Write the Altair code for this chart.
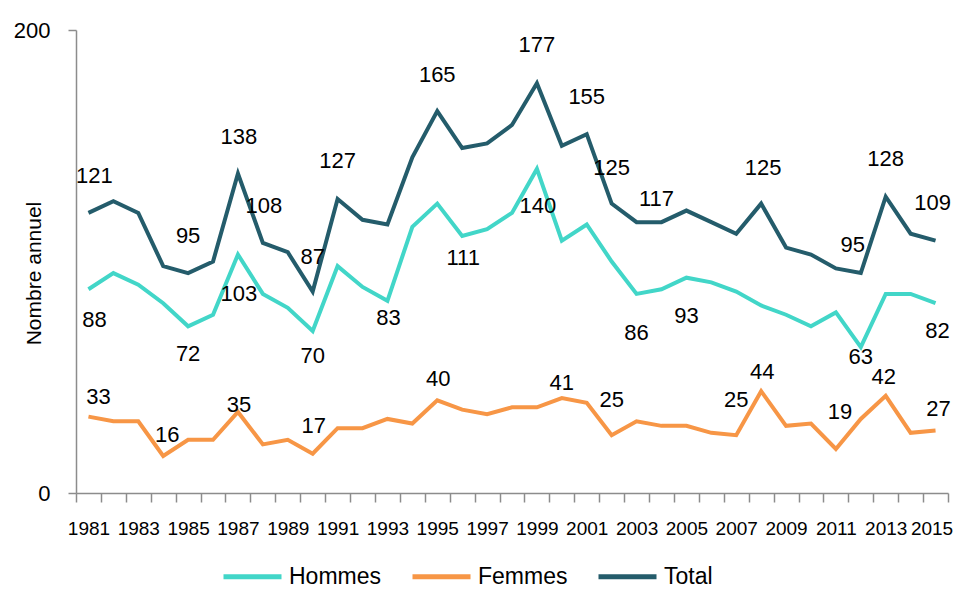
import altair as alt
import pandas as pd

years = list(range(1981, 2016))
hommes = [88, 95, 90, 82, 72, 77, 103, 86, 80, 70, 98, 89, 83, 115, 125, 111, 114, 121, 140, 109,
          116, 100, 86, 88, 93, 91, 87, 81, 77, 72, 78, 63, 86, 86, 82]
femmes = [33, 31, 31, 16, 23, 23, 35, 21, 23, 17, 28, 28, 32, 30, 40, 36, 34, 37, 37, 41,
          39, 25, 31, 29, 29, 26, 25, 44, 29, 30, 19, 32, 42, 26, 27]
total = [121, 126, 121, 98, 95, 100, 138, 108, 104, 87, 127, 118, 116, 145, 165, 149, 151, 159, 177, 150,
         155, 125, 117, 117, 122, 117, 112, 125, 106, 103, 97, 95, 128, 112, 109]

series_names = ["Hommes", "Femmes", "Total"]
series_colors = ["#42D6C8", "#F79646", "#245C6B"]

# labelled points: (series, year, dx px, dy px)
label_specs = [
    ("Total", 1981, 6, -37), ("Total", 1985, 0, -37), ("Total", 1987, 1, -37), ("Total", 1988, 1, -37),
    ("Total", 1990, 0, -35), ("Total", 1991, 0, -38), ("Total", 1995, 0, -36), ("Total", 1999, 0, -38),
    ("Total", 2001, 0, -37), ("Total", 2002, 0, -36), ("Total", 2004, -5, -23), ("Total", 2008, 2, -36),
    ("Total", 2012, -8, -28), ("Total", 2013, 0, -38), ("Total", 2015, -3, -38),
    ("Hommes", 1981, 6, 31), ("Hommes", 1985, 0, 28), ("Hommes", 1987, 1, 39), ("Hommes", 1990, 0, 25),
    ("Hommes", 1993, 1, 17), ("Hommes", 1996, 1, 22), ("Hommes", 1999, 1, 37), ("Hommes", 2003, 0, 39),
    ("Hommes", 2005, 0, 38), ("Hommes", 2012, 0, 10), ("Hommes", 2015, 2, 28),
    ("Femmes", 1981, 10, -20), ("Femmes", 1984, 4, -21), ("Femmes", 1987, 1, -7), ("Femmes", 1990, 1, -28),
    ("Femmes", 1995, 1, -21), ("Femmes", 2000, 0, -15), ("Femmes", 2002, 0, -35), ("Femmes", 2007, 0, -35),
    ("Femmes", 2008, 1, -19), ("Femmes", 2011, 4, -37), ("Femmes", 2013, -2, -19), ("Femmes", 2015, 3, -21),
]

W, H = 872, 463
X0, X1 = 1980.5, 2015.5
YMAX = 200
px_per_year = W / (X1 - X0)
px_per_unit = H / YMAX

FONT = "Liberation Sans"
GRAY = "#8C8C8C"

rows = []
for name, vals in zip(series_names, [hommes, femmes, total]):
    for y, v in zip(years, vals):
        rows.append({"year": y, "value": v, "serie": name})
df = pd.DataFrame(rows)

lookup = {"Hommes": dict(zip(years, hommes)), "Femmes": dict(zip(years, femmes)), "Total": dict(zip(years, total))}
lab_rows = []
for name, y, dx, dy in label_specs:
    v = lookup[name][y]
    lab_rows.append({"year": y, "value": v, "serie": name, "txt": str(v),
                     "xl": y + dx / px_per_year, "yl": v - dy / px_per_unit})
ldf = pd.DataFrame(lab_rows)

xscale = alt.Scale(domain=[X0, X1], nice=False, zero=False)
yscale = alt.Scale(domain=[0, YMAX], nice=False)

yaxis = alt.Axis(values=[0, 200], tickSize=8, tickColor=GRAY, domainColor=GRAY,
                 tickWidth=1.5, domainWidth=1.5, grid=False,
                 labelFont=FONT, labelFontSize=22, labelColor="#000", labelPadding=18,
                 title="Nombre annuel", titleFont=FONT, titleFontSize=21,
                 titleFontWeight="normal", titleColor="#000",
                 titleX=-42, titleY=243, titleAngle=270, titleAlign="center",
                 titleBaseline="middle")

color = alt.Color("serie:N", scale=alt.Scale(domain=series_names, range=series_colors),
                  legend=alt.Legend(title=None, orient="none", direction="horizontal",
                                    legendX=145, legendY=515,
                                    symbolType="stroke", symbolSize=3364, symbolStrokeWidth=5,
                                    labelFont=FONT, labelFontSize=23, labelColor="#000",
                                    labelOffset=5, columnPadding=20, labelLimit=300))

lines = alt.Chart(df).mark_line(strokeWidth=4, strokeJoin="miter").encode(
    x=alt.X("year:Q", scale=xscale,
            axis=alt.Axis(values=[X0 + i for i in range(36)], labels=False, ticks=True, tickSize=9,
                          tickColor=GRAY, domainColor=GRAY, tickWidth=1.5, domainWidth=1.5,
                          grid=False, title=None, orient="bottom")),
    y=alt.Y("value:Q", scale=yscale, axis=yaxis),
    color=color,
)

xlabels = alt.Chart(pd.DataFrame({"year": years})).mark_point(opacity=0).encode(
    x=alt.X("year:Q", scale=xscale,
            axis=alt.Axis(values=[y for y in years if y % 2 == 1], format="d", ticks=False, domain=False,
                          labelFont=FONT, labelFontSize=19, labelColor="#000", labelPadding=26,
                          labelOffset={"condition": {"test": "datum.value == 2015", "value": -4}, "value": 0},
                          labelOverlap=False, labelFlush=False, grid=False, title=None, orient="bottom")),
)

texts = alt.Chart(ldf).mark_text(font=FONT, fontSize=22, color="#000", align="center", baseline="middle").encode(
    x=alt.X("xl:Q", scale=xscale, axis=None),
    y=alt.Y("yl:Q", scale=yscale, axis=yaxis),
    text="txt:N",
)

chart = alt.layer(lines, xlabels, texts).resolve_axis(x="independent").properties(
    width=W, height=H,
    autosize="none",
    background="white",
    padding={"left": 68, "top": 22, "right": 5, "bottom": 96},
).configure_view(stroke=None, strokeWidth=0)

chart.save("out.html", embed_options={"renderer": "svg", "actions": False})
